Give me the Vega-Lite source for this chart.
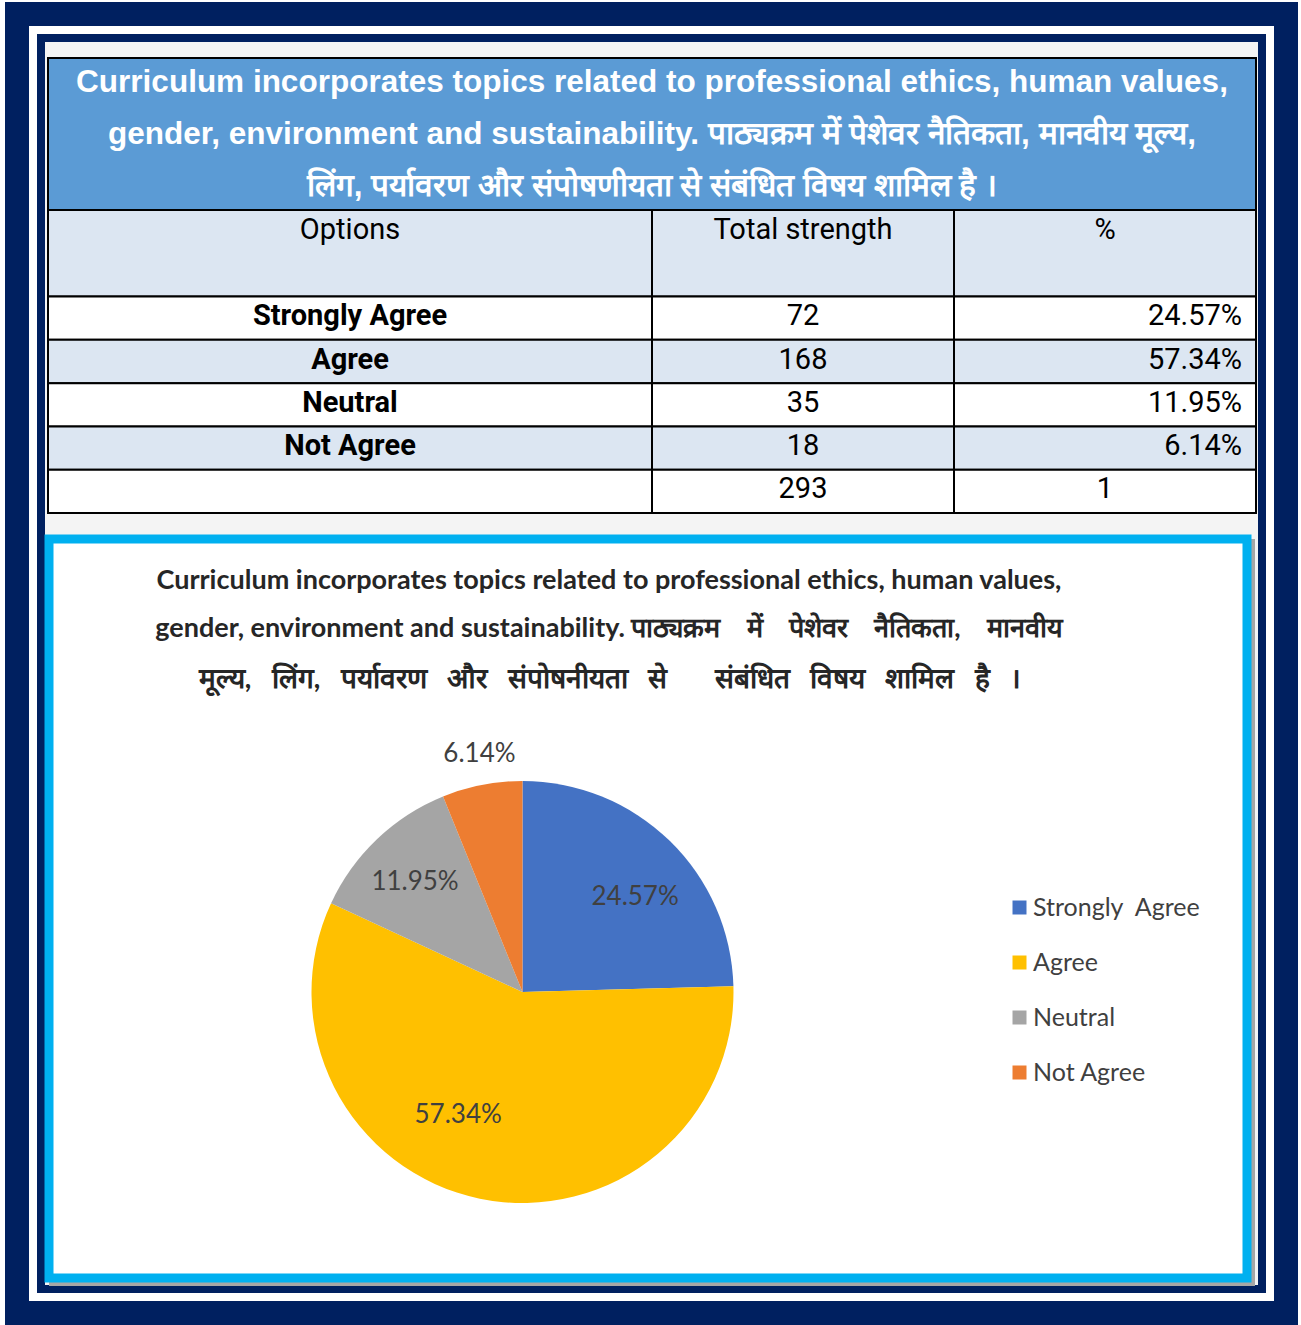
{
  "$schema": "https://vega.github.io/schema/vega-lite/v6.json",
  "width": 1301,
  "height": 1325,
  "autosize": {"type": "fit", "contains": "padding"},
  "padding": {"left": 5, "top": 2, "right": 3, "bottom": 0},
  "background": "#ffffff",
  "config": {"view": {"stroke": null}, "axis": {"disable": true}},
  "datasets": {
    "responses": [
      {"option": "Strongly Agree", "count": 72, "share": 0.2457},
      {"option": "Agree", "count": 168, "share": 0.5734},
      {"option": "Neutral", "count": 35, "share": 0.1195},
      {"option": "Not Agree", "count": 18, "share": 0.0614}
    ],
    "table": [
      {"option": "Strongly Agree", "count": 72, "share": 0.2457},
      {"option": "Agree", "count": 168, "share": 0.5734},
      {"option": "Neutral", "count": 35, "share": 0.1195},
      {"option": "Not Agree", "count": 18, "share": 0.0614},
      {"option": "Total", "count": 293, "share": 1}
    ],
    "frame": [{}]
  },
  "layer": [
    {
      "data": {"name": "frame"},
      "mark": {"type": "rect", "fill": "#f4f4f4", "stroke": "#002060", "strokeWidth": 80, "clip": true, "y2Offset": 4},
      "encoding": {}
    },
    {
      "data": {"name": "frame"},
      "mark": {"type": "rect", "fillOpacity": 0, "stroke": "#ffffff", "strokeWidth": 64, "clip": true, "y2Offset": 4},
      "encoding": {}
    },
    {
      "data": {"name": "frame"},
      "mark": {"type": "rect", "fillOpacity": 0, "stroke": "#002060", "strokeWidth": 48, "clip": true, "y2Offset": 4},
      "encoding": {}
    },
    {
      "data": {"name": "frame"},
      "layer": [
        {
          "mark": {"type": "rect", "fill": "#5b9bd5", "stroke": "#000000", "strokeWidth": 2},
          "encoding": {
            "x": {"datum": "Title", "type": "nominal", "scale": {"type": "band", "domain": ["Title"], "range": [43, 1251], "paddingInner": 0, "paddingOuter": 0}},
            "y": {"datum": "Title", "type": "nominal", "scale": {"type": "band", "domain": ["Title"], "range": [56, 208], "paddingInner": 0, "paddingOuter": 0}}
          }
        },
        {
          "mark": {
            "type": "text",
            "text": [
              "Curriculum incorporates topics related to professional ethics, human values,",
              "gender, environment and sustainability. पाठ्यक्रम में पेशेवर नैतिकता, मानवीय मूल्य,",
              "लिंग, पर्यावरण और संपोषणीयता से संबंधित विषय शामिल है ।"
            ],
            "font": "Liberation Sans",
            "fontWeight": "bold",
            "fontSize": 31.5,
            "lineHeight": 52,
            "color": "#ffffff",
            "align": "center",
            "baseline": "middle",
            "dy": -51
          },
          "encoding": {
            "x": {"datum": "Title", "type": "nominal", "bandPosition": 0.5},
            "y": {"datum": "Title", "type": "nominal", "bandPosition": 0.5}
          }
        }
      ]
    },
    {
      "data": {"name": "table"},
      "layer": [
        {
          "data": {"name": "frame"},
          "mark": {"type": "rect", "fill": "#dce6f2", "stroke": "#000000", "strokeWidth": 2},
          "encoding": {
            "x": {"datum": "Options", "type": "nominal", "bandPosition": 0, "scale": {"type": "band", "domain": ["Options", "Options (cont.)", "Total strength", "%"], "range": [43, 1251], "paddingInner": 0, "paddingOuter": 0}},
            "x2": {"datum": "%", "bandPosition": 1},
            "y": {"datum": "Header", "type": "nominal", "bandPosition": 0, "scale": {"type": "band", "domain": ["Header", "Header (cont.)", "Strongly Agree", "Agree", "Neutral", "Not Agree", "Total"], "range": [208, 511], "paddingInner": 0, "paddingOuter": 0}},
            "y2": {"datum": "Header (cont.)", "bandPosition": 1}
          }
        },
        {
          "mark": {"type": "rect", "stroke": "#000000", "strokeWidth": 2},
          "encoding": {
            "x": {"datum": "Options", "type": "nominal", "bandPosition": 0},
            "x2": {"datum": "%", "bandPosition": 1},
            "y": {"field": "option", "type": "nominal"},
            "fill": {"condition": {"test": "datum.option === 'Agree' || datum.option === 'Not Agree'", "value": "#dce6f2"}, "value": "#ffffff"}
          }
        },
        {
          "data": {"values": [{"column": "Total strength"}, {"column": "%"}]},
          "mark": {"type": "rule", "stroke": "#000000", "strokeWidth": 2},
          "encoding": {
            "x": {"field": "column", "type": "nominal", "bandPosition": 0},
            "y": {"datum": "Header", "type": "nominal", "bandPosition": 0},
            "y2": {"datum": "Total", "bandPosition": 1}
          }
        },
        {
          "data": {"name": "frame"},
          "mark": {"type": "text", "text": "Options", "font": "Liberation Sans Narrow, Roboto", "fontSize": 29, "color": "#000000", "align": "center", "baseline": "middle", "dy": -2},
          "encoding": {
            "x": {"datum": "Options (cont.)", "type": "nominal", "bandPosition": 0},
            "y": {"datum": "Header", "type": "nominal", "bandPosition": 0.5}
          }
        },
        {
          "data": {"values": [{"column": "Total strength"}, {"column": "%"}]},
          "mark": {"type": "text", "font": "Liberation Sans Narrow, Roboto", "fontSize": 29, "color": "#000000", "align": "center", "baseline": "middle", "dy": -2},
          "encoding": {
            "x": {"field": "column", "type": "nominal", "bandPosition": 0.5},
            "y": {"datum": "Header", "type": "nominal", "bandPosition": 0.5},
            "text": {"field": "column"}
          }
        },
        {
          "transform": [{"filter": "datum.option !== 'Total'"}],
          "mark": {"type": "text", "font": "Liberation Sans Narrow, Roboto", "fontWeight": "bold", "fontSize": 29, "color": "#000000", "align": "center", "baseline": "middle", "dy": -2},
          "encoding": {
            "x": {"datum": "Options (cont.)", "type": "nominal", "bandPosition": 0},
            "y": {"field": "option", "type": "nominal", "bandPosition": 0.5},
            "text": {"field": "option"}
          }
        },
        {
          "mark": {"type": "text", "font": "Liberation Sans Narrow, Roboto", "fontSize": 29, "color": "#000000", "align": "center", "baseline": "middle", "dy": -2},
          "encoding": {
            "x": {"datum": "Total strength", "type": "nominal", "bandPosition": 0.5},
            "y": {"field": "option", "type": "nominal", "bandPosition": 0.5},
            "text": {"field": "count"}
          }
        },
        {
          "transform": [{"filter": "datum.option !== 'Total'"}],
          "mark": {"type": "text", "font": "Liberation Sans Narrow, Roboto", "fontSize": 29, "color": "#000000", "align": "right", "baseline": "middle", "dx": -14, "dy": -2},
          "encoding": {
            "x": {"datum": "%", "type": "nominal", "bandPosition": 1},
            "y": {"field": "option", "type": "nominal", "bandPosition": 0.5},
            "text": {"field": "share", "format": ".2%"}
          }
        },
        {
          "transform": [{"filter": "datum.option === 'Total'"}],
          "mark": {"type": "text", "font": "Liberation Sans Narrow, Roboto", "fontSize": 29, "color": "#000000", "align": "center", "baseline": "middle", "dy": -2},
          "encoding": {
            "x": {"datum": "%", "type": "nominal", "bandPosition": 0.5},
            "y": {"field": "option", "type": "nominal", "bandPosition": 0.5},
            "text": {"field": "share"}
          }
        }
      ]
    },
    {
      "data": {"name": "frame"},
      "layer": [
        {
          "mark": {"type": "rect", "fillOpacity": 0, "stroke": "#a6a6a6", "strokeWidth": 8, "xOffset": 4, "x2Offset": 4, "yOffset": 4, "y2Offset": 4},
          "encoding": {
            "x": {"datum": "Panel", "type": "nominal", "scale": {"type": "band", "domain": ["Panel"], "range": [44, 1242], "paddingInner": 0, "paddingOuter": 0}},
            "y": {"datum": "Panel", "type": "nominal", "scale": {"type": "band", "domain": ["Panel"], "range": [537, 1276], "paddingInner": 0, "paddingOuter": 0}}
          }
        },
        {
          "mark": {"type": "rect", "fill": "#ffffff", "stroke": "#00b0f0", "strokeWidth": 9},
          "encoding": {
            "x": {"datum": "Panel", "type": "nominal"},
            "y": {"datum": "Panel", "type": "nominal"}
          }
        },
        {
          "mark": {
            "type": "text",
            "text": [
              "Curriculum incorporates topics related to professional ethics, human values,",
              "gender, environment and sustainability. पाठ्यक्रम\u00a0\u00a0\u00a0 में\u00a0\u00a0\u00a0 पेशेवर\u00a0\u00a0\u00a0 नैतिकता,\u00a0\u00a0\u00a0 मानवीय"
            ],
            "font": "Lato",
            "fontWeight": "bold",
            "fontSize": 27,
            "lineHeight": 48,
            "color": "#262626",
            "align": "center",
            "baseline": "middle",
            "dx": -39,
            "dy": -328
          },
          "encoding": {
            "x": {"datum": "Panel", "type": "nominal", "bandPosition": 0.5},
            "y": {"datum": "Panel", "type": "nominal", "bandPosition": 0.5}
          }
        },
        {
          "mark": {
            "type": "text",
            "text": "मूल्य,\u00a0\u00a0 लिंग,\u00a0\u00a0 पर्यावरण\u00a0\u00a0 और\u00a0\u00a0 संपोषनीयता\u00a0\u00a0 से\u00a0\u00a0\u00a0\u00a0\u00a0\u00a0 संबंधित\u00a0\u00a0 विषय\u00a0\u00a0 शामिल\u00a0\u00a0 है\u00a0\u00a0 ।",
            "font": "Lato",
            "fontWeight": "bold",
            "fontSize": 28,
            "color": "#262626",
            "align": "center",
            "baseline": "middle",
            "dx": -38,
            "dy": -229
          },
          "encoding": {
            "x": {"datum": "Panel", "type": "nominal", "bandPosition": 0.5},
            "y": {"datum": "Panel", "type": "nominal", "bandPosition": 0.5}
          }
        }
      ]
    },
    {
      "data": {"name": "responses"},
      "transform": [{"window": [{"op": "row_number", "as": "rank"}]}],
      "layer": [
        {
          "mark": {"type": "arc", "outerRadius": 211},
          "encoding": {
            "x": {"datum": "Pie", "type": "nominal", "bandPosition": 0.5, "scale": {"type": "band", "domain": ["Pie"], "range": [313, 722], "paddingInner": 0, "paddingOuter": 0}},
            "y": {"datum": "Pie", "type": "nominal", "bandPosition": 0.5, "scale": {"type": "band", "domain": ["Pie"], "range": [774, 1206], "paddingInner": 0, "paddingOuter": 0}},
            "theta": {"field": "count", "type": "quantitative", "stack": true},
            "order": {"field": "rank", "type": "quantitative"},
            "color": {
              "field": "option",
              "type": "nominal",
              "sort": ["Strongly Agree", "Agree", "Neutral", "Not Agree"],
              "scale": {"domain": ["Strongly Agree", "Agree", "Neutral", "Not Agree"], "range": ["#4472c4", "#ffc000", "#a5a5a5", "#ed7d31"]},
              "legend": {
                "title": null,
                "orient": "none",
                "legendX": 1002,
                "legendY": 893,
                "symbolType": "square",
                "symbolSize": 196,
                "symbolStrokeWidth": 0,
                "symbolOpacity": 1,
                "labelFont": "Lato",
                "labelFontSize": 25,
                "labelColor": "#404040",
                "labelOffset": 1,
                "labelLimit": 0,
                "rowPadding": 29,
                "labelExpr": "datum.label === 'Strongly Agree' ? 'Strongly\u00a0 Agree' : datum.label"
              }
            }
          }
        },
        {
          "mark": {"type": "text", "radius": 150, "font": "Lato", "fontSize": 26, "color": "#404040", "align": "center", "baseline": "middle", "dx": 8, "dy": 12},
          "encoding": {
            "x": {"datum": "Pie", "type": "nominal", "bandPosition": 0.5},
            "y": {"datum": "Pie", "type": "nominal", "bandPosition": 0.5},
            "theta": {"field": "count", "type": "quantitative", "stack": true},
            "order": {"field": "rank", "type": "quantitative"},
            "detail": {"field": "option", "type": "nominal"},
            "text": {"condition": {"test": "datum.option === 'Strongly Agree'", "field": "share", "format": ".2%"}, "value": ""}
          }
        },
        {
          "mark": {"type": "text", "radius": 150, "font": "Lato", "fontSize": 26, "color": "#404040", "align": "center", "baseline": "middle", "dx": -34, "dy": -24},
          "encoding": {
            "x": {"datum": "Pie", "type": "nominal", "bandPosition": 0.5},
            "y": {"datum": "Pie", "type": "nominal", "bandPosition": 0.5},
            "theta": {"field": "count", "type": "quantitative", "stack": true},
            "order": {"field": "rank", "type": "quantitative"},
            "detail": {"field": "option", "type": "nominal"},
            "text": {"condition": {"test": "datum.option === 'Agree'", "field": "share", "format": ".2%"}, "value": ""}
          }
        },
        {
          "mark": {"type": "text", "radius": 150, "font": "Lato", "fontSize": 26, "color": "#404040", "align": "center", "baseline": "middle", "dx": -4, "dy": -1},
          "encoding": {
            "x": {"datum": "Pie", "type": "nominal", "bandPosition": 0.5},
            "y": {"datum": "Pie", "type": "nominal", "bandPosition": 0.5},
            "theta": {"field": "count", "type": "quantitative", "stack": true},
            "order": {"field": "rank", "type": "quantitative"},
            "detail": {"field": "option", "type": "nominal"},
            "text": {"condition": {"test": "datum.option === 'Neutral'", "field": "share", "format": ".2%"}, "value": ""}
          }
        },
        {
          "mark": {"type": "text", "radius": 240, "font": "Lato", "fontSize": 26, "color": "#404040", "align": "center", "baseline": "middle", "dx": 3, "dy": -2},
          "encoding": {
            "x": {"datum": "Pie", "type": "nominal", "bandPosition": 0.5},
            "y": {"datum": "Pie", "type": "nominal", "bandPosition": 0.5},
            "theta": {"field": "count", "type": "quantitative", "stack": true},
            "order": {"field": "rank", "type": "quantitative"},
            "detail": {"field": "option", "type": "nominal"},
            "text": {"condition": {"test": "datum.option === 'Not Agree'", "field": "share", "format": ".2%"}, "value": ""}
          }
        }
      ]
    }
  ],
  "resolve": {"scale": {"x": "independent", "y": "independent"}}
}
